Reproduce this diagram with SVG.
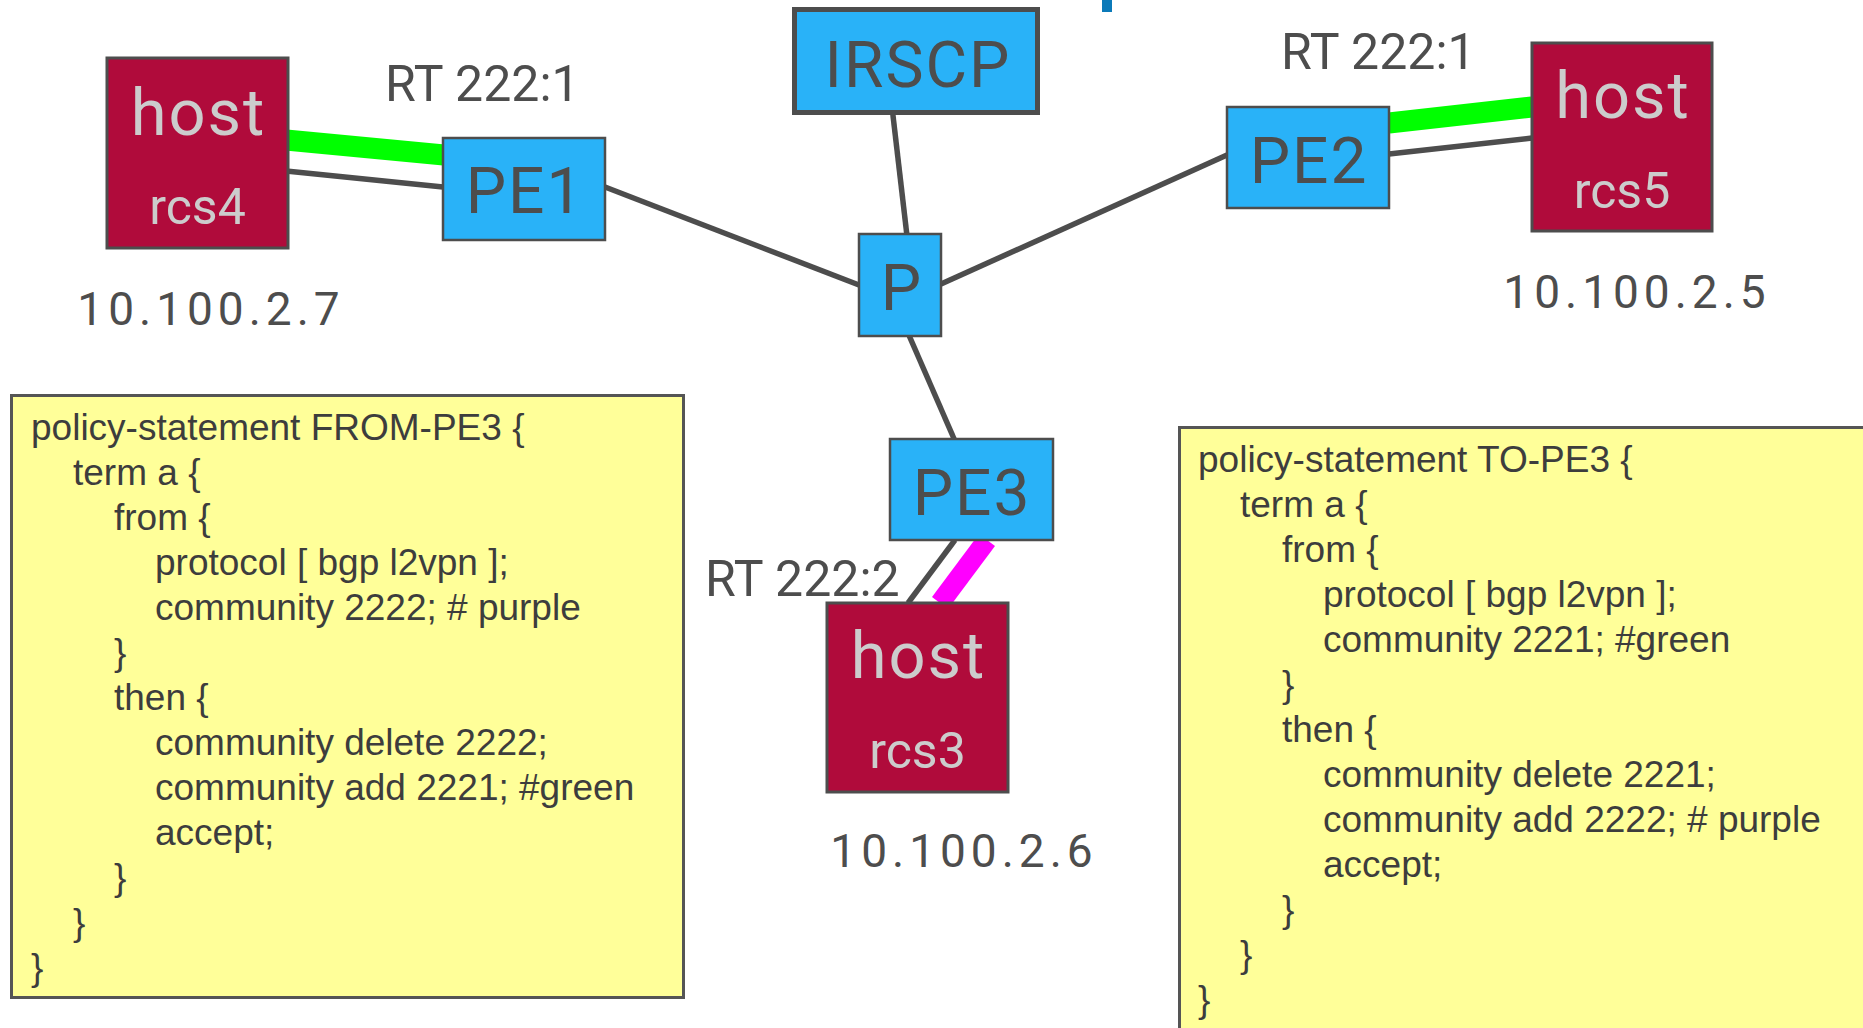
<svg xmlns="http://www.w3.org/2000/svg" width="1863" height="1028" viewBox="0 0 1863 1028">
  <style>
    .router { fill: #29b2f8; stroke: #4d4d4d; stroke-width: 2.5; }
    .host { fill: #b00b3b; stroke: #4d4d4d; stroke-width: 3; }
    .policy { fill: #ffff99; stroke: #555555; stroke-width: 3; }
    .lbl { font-family: Roboto, "Liberation Sans", sans-serif; fill: #4d4d4d; }
    .rname { font-size: 64px; text-anchor: middle; }
    .wide { letter-spacing: 2px; }
    .hname { font-family: Roboto, "Liberation Sans", sans-serif; fill: #cccccc; text-anchor: middle; }
    .hbig { font-size: 65px; letter-spacing: 2px; }
    .hsmall { font-size: 50px; }
    .rt { font-size: 50px; }
    .addr { font-size: 46px; letter-spacing: 5px; }
    .code { font-family: "Liberation Sans", Arial, sans-serif; font-size: 37px; fill: #3d3d3d; }
    .link { stroke: #4d4d4d; stroke-width: 5.5; fill: none; }
    .green { stroke: #00ff00; stroke-width: 21; }
    .purple { stroke: #ff00ff; stroke-width: 20; }
  </style>

  <!-- fragment of the heading above the drawing -->
  <rect x="1102" y="0" width="10" height="12" fill="#0b7ab9"/>

  <!-- links -->
  <g id="connectors">
    <line class="link" x1="892" y1="107" x2="907" y2="236"/>
    <line class="link" x1="605" y1="187" x2="859" y2="285"/>
    <line class="link" x1="941" y1="284" x2="1227" y2="155"/>
    <line class="link" x1="908" y1="333" x2="955" y2="441"/>
    <line class="link" x1="286" y1="171" x2="443" y2="187"/>
    <line class="green" x1="286" y1="140" x2="444" y2="155"/>
    <line class="link" x1="1389" y1="154" x2="1532" y2="138"/>
    <line class="green" x1="1389" y1="123" x2="1532" y2="107"/>
    <line class="link" x1="955" y1="540" x2="908" y2="603"/>
    <line class="purple" x1="987" y1="540" x2="940" y2="603"/>
  </g>

  <g id="irscp">
    <rect class="router" x="794.5" y="9.5" width="243" height="103" style="stroke-width:5"/>
    <text class="lbl rname wide" x="918" y="87">IRSCP</text>
  </g>

  <g id="p">
    <rect class="router" x="859" y="234" width="82" height="102"/>
    <text class="lbl rname" x="901" y="310">P</text>
  </g>

  <g id="pe1">
    <rect class="router" x="443" y="138" width="162" height="102"/>
    <text class="lbl rname wide" x="525" y="213">PE1</text>
  </g>

  <g id="pe2">
    <rect class="router" x="1227" y="107" width="162" height="101"/>
    <text class="lbl rname wide" x="1309" y="183">PE2</text>
  </g>

  <g id="pe3">
    <rect class="router" x="890" y="439" width="163" height="101"/>
    <text class="lbl rname wide" x="972" y="515">PE3</text>
  </g>

  <g id="rcs4">
    <rect class="host" x="107" y="58" width="181" height="190"/>
    <text class="hname hbig" x="198.5" y="135">host</text>
    <text class="hname hsmall" x="197.5" y="224">rcs4</text>
    <text class="lbl addr" x="211" y="325" text-anchor="middle">10.100.2.7</text>
  </g>

  <g id="rcs5">
    <rect class="host" x="1532" y="43" width="180" height="188"/>
    <text class="hname hbig" x="1623" y="118">host</text>
    <text class="hname hsmall" x="1622" y="208">rcs5</text>
    <text class="lbl addr" x="1637" y="308" text-anchor="middle">10.100.2.5</text>
  </g>

  <g id="rcs3">
    <rect class="host" x="827" y="603" width="181" height="189"/>
    <text class="hname hbig" x="918.5" y="678">host</text>
    <text class="hname hsmall" x="917.5" y="768">rcs3</text>
    <text class="lbl addr" x="964" y="867" text-anchor="middle">10.100.2.6</text>
  </g>

  <!-- route target labels -->
  <g id="rt-labels">
    <text class="lbl rt" x="385" y="101">RT 222:1</text>
    <text class="lbl rt" x="1281" y="69">RT 222:1</text>
    <text class="lbl rt" x="705" y="596">RT 222:2</text>
  </g>

  <g id="policy-from-pe3">
    <rect class="policy" x="11.5" y="395.5" width="672" height="602"/>
    <text class="code" x="31" y="440">policy-statement FROM-PE3 {</text>
    <text class="code" x="73" y="485">term a {</text>
    <text class="code" x="114" y="530">from {</text>
    <text class="code" x="155" y="575">protocol [ bgp l2vpn ];</text>
    <text class="code" x="155" y="620">community 2222; # purple</text>
    <text class="code" x="114" y="665">}</text>
    <text class="code" x="114" y="710">then {</text>
    <text class="code" x="155" y="755">community delete 2222;</text>
    <text class="code" x="155" y="800">community add 2221; #green</text>
    <text class="code" x="155" y="845">accept;</text>
    <text class="code" x="114" y="890">}</text>
    <text class="code" x="73" y="935">}</text>
    <text class="code" x="31" y="980">}</text>
  </g>

  <g id="policy-to-pe3">
    <rect class="policy" x="1179.5" y="427.5" width="800" height="700"/>
    <text class="code" x="1198" y="472">policy-statement TO-PE3 {</text>
    <text class="code" x="1240" y="517">term a {</text>
    <text class="code" x="1282" y="562">from {</text>
    <text class="code" x="1323" y="607">protocol [ bgp l2vpn ];</text>
    <text class="code" x="1323" y="652">community 2221; #green</text>
    <text class="code" x="1282" y="697">}</text>
    <text class="code" x="1282" y="742">then {</text>
    <text class="code" x="1323" y="787">community delete 2221;</text>
    <text class="code" x="1323" y="832">community add 2222; # purple</text>
    <text class="code" x="1323" y="877">accept;</text>
    <text class="code" x="1282" y="922">}</text>
    <text class="code" x="1240" y="967">}</text>
    <text class="code" x="1198" y="1012">}</text>
  </g>
</svg>
